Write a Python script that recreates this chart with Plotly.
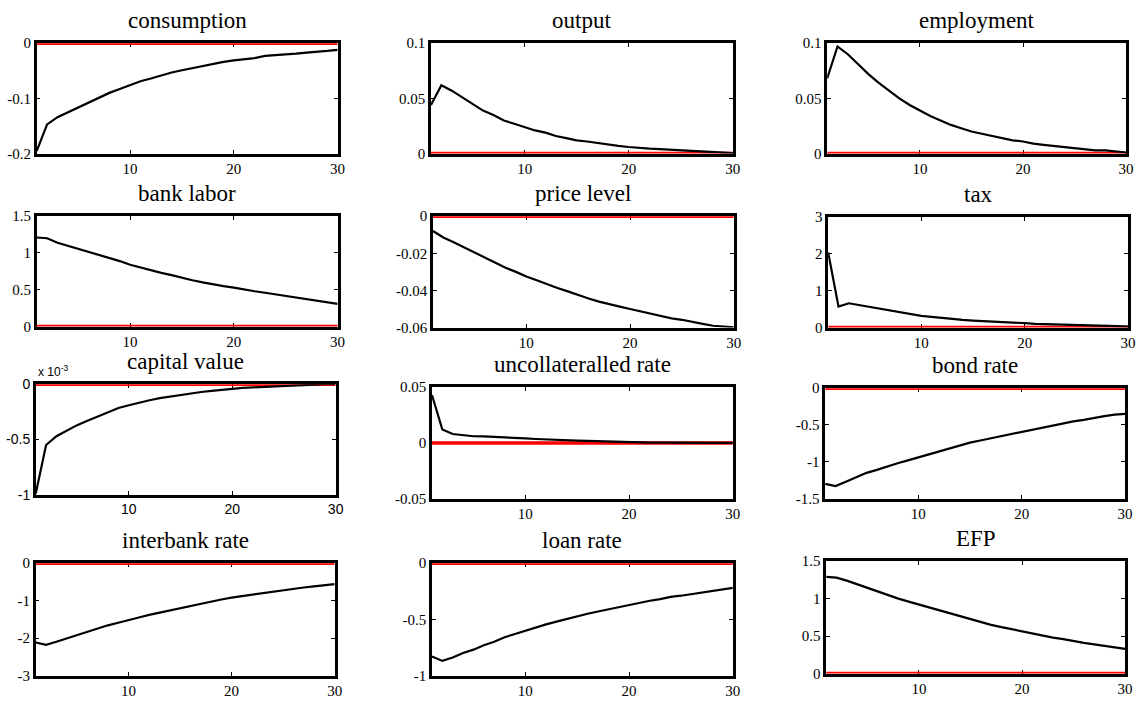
import plotly.graph_objects as go

W, H = 1146, 706

periods = list(range(1, 31))
x_ticks = [10, 20, 30]
x_tick_text = ["10", "20", "30"]

titles = ["consumption", "output", "employment",
          "bank labor", "price level", "tax",
          "capital value", "uncollateralled rate", "bond rate",
          "interbank rate", "loan rate", "EFP"]

consumption = [-0.195, -0.147, -0.134, -0.125, -0.116, -0.107, -0.098, -0.090, -0.083, -0.076,
               -0.069, -0.064, -0.058, -0.053, -0.049, -0.045, -0.041, -0.037, -0.034, -0.031,
               -0.029, -0.027, -0.023, -0.022, -0.021, -0.019, -0.017, -0.016, -0.014, -0.012]
output = [0.044, 0.062, 0.057, 0.051, 0.045, 0.039, 0.035, 0.030, 0.027, 0.024,
          0.021, 0.019, 0.016, 0.014, 0.012, 0.011, 0.0095, 0.0085, 0.007, 0.006,
          0.005, 0.0045, 0.004, 0.0033, 0.003, 0.0025, 0.002, 0.0017, 0.001, 0.0005]
employment = [0.068, 0.097, 0.090, 0.081, 0.072, 0.064, 0.057, 0.050, 0.044, 0.039,
              0.034, 0.030, 0.026, 0.023, 0.020, 0.018, 0.016, 0.014, 0.012, 0.011,
              0.009, 0.008, 0.007, 0.006, 0.005, 0.004, 0.003, 0.003, 0.002, 0.001]
bank_labor = [1.21, 1.20, 1.14, 1.10, 1.06, 1.02, 0.98, 0.93, 0.89, 0.84,
              0.80, 0.76, 0.73, 0.70, 0.66, 0.63, 0.60, 0.57, 0.55, 0.53,
              0.50, 0.48, 0.46, 0.44, 0.41, 0.39, 0.37, 0.35, 0.33, 0.31]
price_level = [-0.008, -0.0115, -0.014, -0.0167, -0.0195, -0.022, -0.025, -0.0278, -0.030, -0.0325,
               -0.0345, -0.0367, -0.0387, -0.0405, -0.0425, -0.0443, -0.046, -0.0475, -0.0487, -0.050,
               -0.0513, -0.0525, -0.0537, -0.055, -0.0558, -0.0567, -0.058, -0.059, -0.0595, -0.0598]
tax = [2.04, 0.57, 0.66, 0.61, 0.56, 0.51, 0.45, 0.41, 0.36, 0.32,
       0.29, 0.26, 0.23, 0.21, 0.19, 0.18, 0.16, 0.15, 0.13, 0.12,
       0.10, 0.09, 0.08, 0.07, 0.06, 0.05, 0.05, 0.04, 0.04, 0.03]
capital_value_e3 = [-0.99, -0.55, -0.47, -0.42, -0.37, -0.33, -0.29, -0.25, -0.215, -0.19,
                    -0.165, -0.145, -0.125, -0.11, -0.10, -0.08, -0.07, -0.06, -0.05, -0.04,
                    -0.033, -0.028, -0.024, -0.018, -0.012, -0.007, -0.002, 0.0, 0.0, 0.0]
uncollateralled_rate = [0.043, 0.012, 0.008, 0.007, 0.006, 0.0058, 0.0055, 0.005, 0.0045, 0.004,
                        0.0035, 0.003, 0.0028, 0.0025, 0.002, 0.0018, 0.0015, 0.0012, 0.0008, 0.0005,
                        0.0004, 0.0003, 0.0003, 0.0002, 0.0002, 0.0001, 0.0001, 0.0001, 0.0, 0.0]
bond_rate = [-1.30, -1.33, -1.27, -1.21, -1.15, -1.11, -1.06, -1.02, -0.98, -0.94,
             -0.90, -0.86, -0.81, -0.78, -0.74, -0.71, -0.68, -0.65, -0.62, -0.59,
             -0.56, -0.53, -0.50, -0.48, -0.45, -0.43, -0.40, -0.38, -0.36, -0.35]
interbank_rate = [-2.12, -2.18, -2.10, -2.01, -1.92, -1.83, -1.75, -1.66, -1.59, -1.51,
                  -1.45, -1.38, -1.32, -1.26, -1.20, -1.14, -1.08, -1.02, -0.97, -0.92,
                  -0.88, -0.84, -0.80, -0.77, -0.73, -0.69, -0.65, -0.62, -0.59, -0.56]
loan_rate = [-0.83, -0.87, -0.84, -0.80, -0.77, -0.73, -0.70, -0.66, -0.63, -0.60,
             -0.57, -0.545, -0.52, -0.495, -0.47, -0.45, -0.43, -0.41, -0.39, -0.37,
             -0.35, -0.335, -0.32, -0.30, -0.29, -0.275, -0.26, -0.245, -0.235, -0.22]
efp = [1.29, 1.28, 1.24, 1.19, 1.14, 1.09, 1.04, 1.00, 0.96, 0.92,
       0.88, 0.84, 0.80, 0.76, 0.72, 0.68, 0.65, 0.62, 0.59, 0.56,
       0.53, 0.50, 0.48, 0.46, 0.43, 0.41, 0.39, 0.37, 0.35, 0.33]

series = [consumption, output, employment, bank_labor, price_level, tax,
          capital_value_e3, uncollateralled_rate, bond_rate, interbank_rate, loan_rate, efp]

y_ticks = [[-0.2, -0.1, 0], [0, 0.05, 0.1], [0, 0.05, 0.1],
           [0, 0.5, 1, 1.5], [-0.06, -0.04, -0.02, 0], [0, 1, 2, 3],
           [-1, -0.5, 0], [-0.05, 0, 0.05], [-1.5, -1, -0.5, 0],
           [-3, -2, -1, 0], [-1, -0.5, 0], [0, 0.5, 1, 1.5]]
y_tick_text = [["-0.2", "-0.1", "0"], ["0", "0.05", "0.1"], ["0", "0.05", "0.1"],
               ["0", "0.5", "1", "1.5"], ["-0.06", "-0.04", "-0.02", "0"], ["0", "1", "2", "3"],
               ["-1", "-0.5", "0"], ["-0.05", "0", "0.05"], ["-1.5", "-1", "-0.5", "0"],
               ["-3", "-2", "-1", "0"], ["-1", "-0.5", "0"], ["0", "0.5", "1", "1.5"]]
y_ranges = [[-0.2, 0], [0, 0.1], [0, 0.1], [0, 1.5], [-0.06, 0], [0, 3],
            [-1, 0], [-0.05, 0.05], [-1.5, 0], [-3, 0], [-1, 0], [0, 1.5]]

# panel boxes in pixels: left, right, top, bottom
boxes = [(37, 340, 36, 149), (434, 738, 36, 149), (833, 1134, 36, 149),
         (37, 340, 213, 326), (436, 739, 213, 327), (834, 1136, 214, 327),
         (36, 338, 385, 498), (435, 738, 388, 502), (831, 1133, 389, 502),
         (36, 337, 568, 683), (435, 738, 568, 683), (832, 1133, 566, 681)]

serif = "Liberation Serif"
sans = "Liberation Sans"

fig = go.Figure()
layout = dict(width=W, height=H, margin=dict(l=0, r=0, t=0, b=0),
              paper_bgcolor="white", plot_bgcolor="white", showlegend=False)
annotations = []

for i, (title, ys) in enumerate(zip(titles, series)):
    n = i + 1
    xa = "x" if n == 1 else f"x{n}"
    ya = "y" if n == 1 else f"y{n}"
    l, r, t, b = boxes[i]
    tick_font = dict(family=sans if i == 6 else serif, size=14 if i == 6 else 15, color="black")
    common = dict(ticks="inside", ticklen=4, tickwidth=1, tickcolor="black",
                  showline=True, linecolor="black", linewidth=2.5, mirror="allticks",
                  showgrid=False, zeroline=False, tickfont=tick_font,
                  layer="below traces", fixedrange=True)
    layout[f"xaxis{'' if n == 1 else n}"] = dict(
        domain=[l / W, r / W], anchor=ya, range=[1, 30],
        tickvals=x_ticks, ticktext=x_tick_text, **common)
    layout[f"yaxis{'' if n == 1 else n}"] = dict(
        domain=[1 - b / H, 1 - t / H], anchor=xa, range=y_ranges[i],
        tickvals=y_ticks[i], ticktext=y_tick_text[i], **common)
    fig.add_trace(go.Scatter(x=periods, y=[0] * len(periods), mode="lines",
                             line=dict(color="red", width=3.5), xaxis=xa, yaxis=ya, hoverinfo="skip"))
    fig.add_trace(go.Scatter(x=periods, y=ys, mode="lines",
                             line=dict(color="black", width=2.2), xaxis=xa, yaxis=ya))
    annotations.append(dict(text=title, xref="paper", yref="paper",
                            x=(l + r) / 2 / W, y=1 - t / H, xanchor="center", yanchor="bottom",
                            yshift=8, showarrow=False,
                            font=dict(family=serif, size=23, color="black")))

l, r, t, b = boxes[6]
annotations.append(dict(text="x 10<sup>-3</sup>", xref="paper", yref="paper",
                        x=l / W, y=1 - t / H, xanchor="left", yanchor="bottom", yshift=3,
                        showarrow=False, font=dict(family=sans, size=12, color="black")))

layout["annotations"] = annotations
fig.update_layout(**layout)
fig.write_html("out.html")
